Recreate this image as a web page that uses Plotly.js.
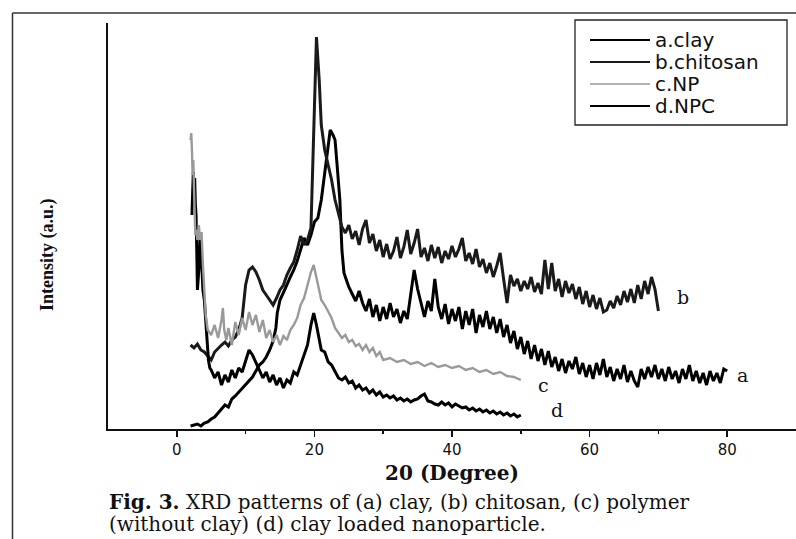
<!DOCTYPE html>
<html>
<head>
<meta charset="utf-8">
<script src="https://cdn.plot.ly/plotly-3.0.1.min.js"></script>
<style>html,body{margin:0;padding:0;background:#fff;}#chart{width:796px;height:539px;}</style>
</head>
<body>
<div id="chart"></div>
<script>
// ---- data (intensity in arbitrary units) ----
const seriesNames = ['a.clay', 'b.chitosan', 'c.NP', 'd.NPC'];
const curveLabels = ['a', 'b', 'c', 'd'];
const seriesColors = ['#000000', '#1a1a1a', '#9a9a9a', '#000000'];

const clayX = [2,2.5,3,3.5,4,4.5,5,5.5,6,6.5,7,7.5,8,8.5,9,9.5,10,10.5,11,11.5,12,12.5,13,13.5,14,14.4,14.6,15,15.5,16,16.5,17,17.5,18,18.5,19,19.5,20,20.5,21,21.5,22,22.3,22.7,23,23.3,23.7,24,24.3,24.6,
  25,25.5,26,26.5,27,27.5,28,28.5,29,29.5,30,30.5,31,31.5,32,32.5,33,33.5,34,34.5,35,35.5,36,36.5,37,37.5,38,38.5,39,39.5,40,40.5,41,41.5,42,42.5,43,43.5,44,44.5,45,45.5,46,46.5,47,47.5,48,48.5,49,49.5,
  50,50.5,51,51.5,52,52.5,53,53.5,54,54.5,55,55.5,56,56.5,57,57.5,58,58.5,59,59.5,60,60.5,61,61.5,62,62.5,63,63.5,64,64.5,65,65.5,66,66.5,67,67.5,68,68.5,69,69.5,70,70.5,71,71.5,72,72.5,73,73.5,74,74.5,75,75.5,76,76.5,77,77.5,78,78.5,79,79.5,80];
const clayY = [3,4,5,3,6,7,10,12,16,20,24,22,30,33,37,40,44,49,52,58,64,67,72,79,88,101,116,129,136,144,152,159,168,179,191,184,194,207,211,229,254,279,299,294,289,264,229,179,156,150,
  142,135,128,138,126,118,130,112,124,108,122,110,126,112,120,106,118,110,134,159,140,125,112,128,118,150,122,110,125,105,120,108,122,100,118,104,120,96,114,102,118,100,112,96,110,92,104,86,98,80,
  92,75,88,70,84,68,80,64,78,62,72,58,70,56,68,60,72,55,66,52,64,50,66,54,70,52,62,48,60,50,64,47,58,48,42,60,50,62,52,64,50,60,48,62,50,58,46,60,50,64,48,58,46,56,44,58,48,56,46,60,58];

const chitosanX = [2,2.5,3,3.5,4,4.5,5,5.5,6,6.5,7,7.5,8,8.5,9,9.5,10,10.5,11,11.5,12,12.5,13,13.5,14,14.5,15,15.5,16,16.5,17,17.5,18,18.5,19,19.5,20,20.3,20.7,21,21.5,22,22.5,23,23.5,24,
  24.5,25,25.5,26,26.5,27,27.5,28,28.5,29,29.5,30,30.5,31,31.5,32,32.5,33,33.5,34,34.5,35,35.5,36,36.5,37,37.5,38,38.5,39,39.5,40,40.5,41,41.5,42,42.5,43,43.5,44,44.5,45,45.5,46,46.5,47,47.5,48,48.5,49,49.5,
  50,50.5,51,51.5,52,52.5,53,53.5,54,54.5,55,55.5,56,56.5,57,57.5,58,58.5,59,59.5,60,60.5,61,61.5,62,62.5,63,63.5,64,64.5,65,65.5,66,66.5,67,67.5,68,68.5,69,69.5,70];
const chitosanY = [84,81,85,79,77,73,69,77,81,84,87,83,89,92,99,111,144,159,162,157,149,139,134,129,124,131,139,144,154,161,167,179,193,184,189,201,309,392,349,304,279,264,249,229,216,202,
  196,204,190,198,184,200,209,186,195,178,189,172,185,170,178,192,171,182,199,175,186,200,172,181,168,184,171,182,166,178,170,183,172,180,191,168,176,165,180,162,170,156,166,152,163,176,150,126,154,143,150,
  138,148,140,152,137,146,135,169,140,166,138,150,132,148,136,145,130,142,125,138,122,134,120,131,117,119,128,121,133,124,138,127,140,126,144,130,148,135,152,140,118];

const npX = [2,2.1,2.2,2.3,2.4,2.5,2.6,2.7,2.8,3,3.2,3.4,3.6,3.8,4,4.2,4.5,5,5.5,6,6.5,6.7,6.9,7.2,7.5,8,8.5,9,9.5,10,10.5,11,11.5,12,12.5,13,13.5,14,14.5,15,15.5,16,16.5,17,17.5,18,18.5,19,19.5,19.9,20.3,20.7,
  21,21.5,22,22.5,23,23.5,24,24.5,25,25.5,26,26.5,27,27.5,28,28.5,29,29.5,30,31,32,33,34,35,36,37,38,39,40,41,42,43,44,45,46,47,48,49,50];
const npY = [289,296,279,254,269,229,214,194,199,189,204,189,197,164,139,114,99,94,104,91,109,121,99,89,101,84,107,94,111,99,117,104,114,97,109,91,99,87,94,84,93,89,99,104,111,124,131,144,157,164,151,137,
  129,124,117,111,101,96,91,94,87,89,83,85,79,84,77,81,73,77,69,71,67,69,65,67,63,66,62,64,61,63,59,61,57,59,55,57,53,52,49];

const npcX = [2.2,2.3,2.4,2.5,2.6,2.7,2.8,2.9,3,3.2,3.4,3.6,3.8,4,4.2,4.4,4.6,4.8,5,5.5,6,6.5,7,7.5,8,8.5,9,9.5,10,10.5,11,11.5,12,12.5,13,13.5,14,14.5,15,15.5,16,16.5,17,17.5,18,18.5,19,19.5,19.9,20.3,20.7,21,21.5,22,22.5,23,23.5,
  24,24.5,25,25.5,26,26.5,27,27.5,28,28.5,29,29.5,30,30.5,31,31.5,32,32.5,33,33.5,34,34.5,35,35.5,36,36.5,37,37.5,38,38.5,39,39.5,40,40.5,41,41.5,42,42.5,43,43.5,44,44.5,45,45.5,46,46.5,47,47.5,48,48.5,49,49.5,50];
const npcY = [214,249,257,239,251,224,214,179,139,159,196,169,139,129,109,84,69,61,59,51,57,44,54,47,59,51,61,57,69,79,74,67,59,51,57,47,54,44,51,41,49,46,57,54,64,74,84,104,116,104,89,79,77,67,64,57,51,
  49,52,46,48,41,44,39,41,36,39,34,37,32,34,31,33,29,31,28,30,27,29,30,33,35,28,27,25,24,27,24,26,22,25,23,21,22,19,21,18,20,17,19,16,18,15,17,14,16,13,15,12,14];

const xTicks = [0, 20, 40, 60, 80];
const xMinorTicks = [10, 30, 50, 70];

// ---- traces ----
const xs = [clayX, chitosanX, npX, npcX];
const ys = [clayY, chitosanY, npY, npcY];
const widths = [3, 3, 2.4, 3];
const order = [0, 1, 3, 2];
const traces = order.map(i => ({
  x: xs[i], y: ys[i], type: 'scatter', mode: 'lines', name: seriesNames[i],
  line: {color: seriesColors[i], width: widths[i]}, showlegend: false, hoverinfo: 'skip'
}));

// paper helpers (plot area: x 108..796 px, y 23..429 px)
const PL = 108, PW = 688, PB = 429, PH = 406;
const px = v => (v - PL) / PW;
const py = v => (PB - v) / PH;

const shapes = [
  // outer figure frame (left + top)
  {type: 'line', xref: 'paper', yref: 'paper', x0: px(12.5), x1: px(12.5), y0: py(545), y1: py(13), line: {color: '#333', width: 1.5}},
  {type: 'line', xref: 'paper', yref: 'paper', x0: px(12.5), x1: px(800), y0: py(13), y1: py(13), line: {color: '#333', width: 1.5}},
  // legend box
  {type: 'rect', xref: 'paper', yref: 'paper', x0: px(575), x1: px(787), y0: py(125), y1: py(20), line: {color: '#222', width: 1.3}, fillcolor: 'rgba(0,0,0,0)'}
];
const legendRows = [40, 62, 84, 106];
const annotations = [];
seriesNames.forEach((n, i) => {
  shapes.push({type: 'line', xref: 'paper', yref: 'paper', x0: px(590), x1: px(650), y0: py(legendRows[i]), y1: py(legendRows[i]),
    line: {color: seriesColors[i], width: i === 2 ? 1.6 : 2}});
});
// legend text: one block, line spacing fixed by the base font size
annotations.push({xref: 'paper', yref: 'paper', x: px(653), y: py((legendRows[0] + legendRows[3]) / 2),
  text: seriesNames.map(n => '<span style="font-size:20px">' + n + '</span>').join('<br>'),
  showarrow: false, align: 'left', xanchor: 'left', yanchor: 'middle',
  font: {family: 'DejaVu Sans', size: 17, color: '#111'}});
// curve labels
const labelPos = [[742, 375], [683, 297], [543, 385], [557, 410]];
curveLabels.forEach((t, i) => {
  annotations.push({xref: 'paper', yref: 'paper', x: px(labelPos[i][0]), y: py(labelPos[i][1]), text: t, showarrow: false,
    xanchor: 'center', yanchor: 'middle', font: {family: 'DejaVu Serif', size: 19, color: '#111'}});
});
// y-axis title
annotations.push({xref: 'paper', yref: 'paper', x: px(47), y: py(255), text: '<b>Intensity (a.u.)</b>', textangle: -90, showarrow: false,
  xanchor: 'center', yanchor: 'middle', font: {family: 'Liberation Serif', size: 18, color: '#111'}});
// caption (one block, two lines)
annotations.push({xref: 'paper', yref: 'paper', x: px(107), y: py(513),
  text: '<span style="font-size:20px"><b>Fig. 3.</b> XRD patterns of (a) clay, (b) chitosan, (c) polymer</span><br>' +
        '<span style="font-size:20px">(without clay) (d) clay loaded nanoparticle.</span>',
  showarrow: false, align: 'left', xanchor: 'left', yanchor: 'middle',
  font: {family: 'DejaVu Serif', size: 17, color: '#111'}});

const layout = {
  width: 796, height: 539,
  margin: {l: PL, r: 0, t: 23, b: 110, pad: 0},
  paper_bgcolor: '#fff', plot_bgcolor: '#fff',
  showlegend: false,
  xaxis: {
    range: [-10, 90], tickvals: xTicks, ticktext: xTicks.map(String),
    ticks: 'outside', ticklen: 6, tickwidth: 1.5, tickcolor: '#111',
    minor: {tickvals: xMinorTicks, ticks: 'outside', ticklen: 3, tickwidth: 1.5, tickcolor: '#111'},
    showline: true, linewidth: 2, linecolor: '#111', showgrid: false, zeroline: false,
    tickfont: {family: 'DejaVu Sans', size: 15, color: '#111'},
    title: {text: '<b>20 (Degree)</b>', font: {family: 'DejaVu Serif', size: 20, color: '#111'}, standoff: 8}
  },
  yaxis: {
    range: [0, 406], showticklabels: false, ticks: '', showline: true, linewidth: 2, linecolor: '#111',
    showgrid: false, zeroline: false
  },
  shapes: shapes,
  annotations: annotations
};

Plotly.newPlot('chart', traces, layout, {staticPlot: true, displayModeBar: false});
</script>
</body>
</html>
